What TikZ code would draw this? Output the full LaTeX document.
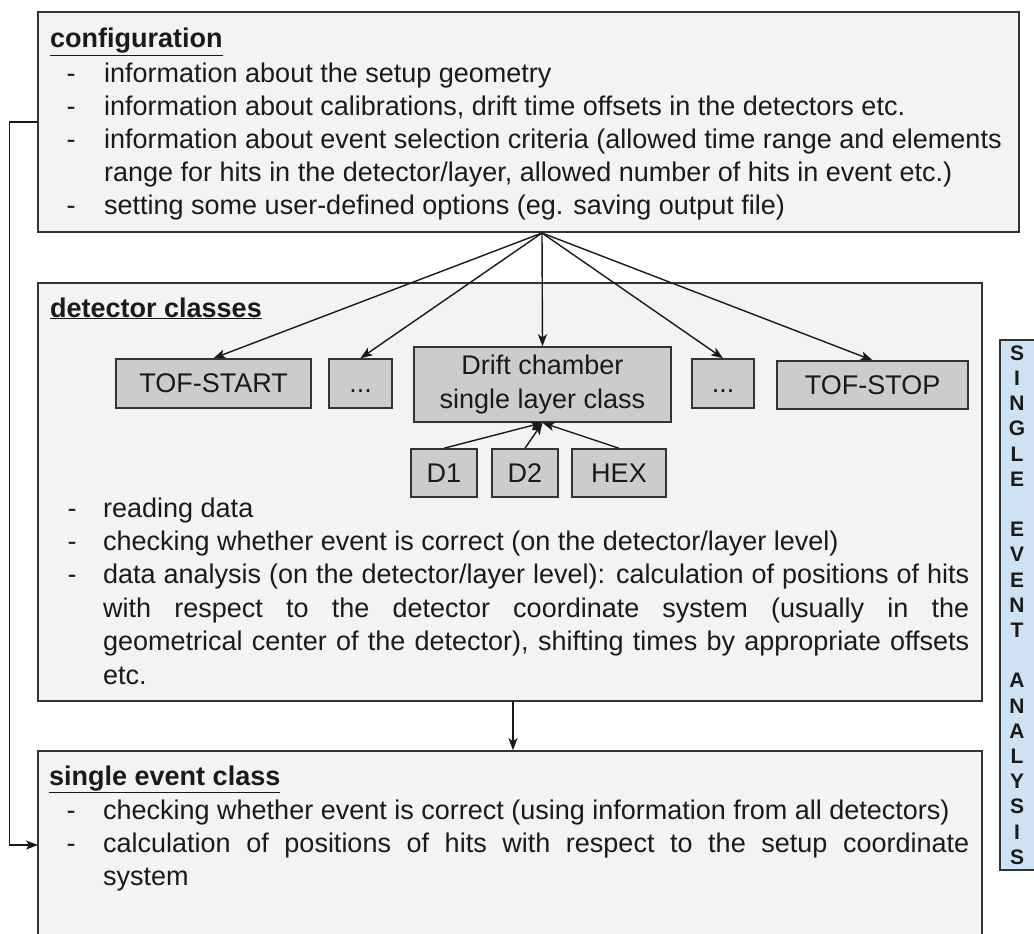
\documentclass[tikz,border=0pt]{standalone}
\usepackage{fontspec}
\setmainfont{Liberation Sans}
\usetikzlibrary{arrows.meta}
\definecolor{boxfill}{HTML}{F3F3F3}
\definecolor{smallfill}{HTML}{CCCCCC}
\definecolor{bluefill}{HTML}{CFE2F3}
\definecolor{edgecol}{HTML}{333333}
\definecolor{txtcol}{HTML}{1A1A1A}
\newcommand\myfs{\fontsize{27}{33.4}\selectfont}
\tikzset{
  bigbox/.style={draw=edgecol, fill=boxfill, line width=1.5pt, inner sep=0pt},
  smallbox/.style={draw=edgecol, fill=smallfill, line width=1.5pt, inner sep=0pt,
                   font=\myfs, text=txtcol, align=center},
  bluebox/.style={draw=edgecol, fill=bluefill, line width=1.5pt, inner sep=0pt},
  conn/.style={line width=1.4pt, draw=black!90, -{Stealth[length=12pt,width=9pt,inset=3pt]}},
  txt/.style={anchor=base west, inner sep=0pt, font=\myfs, text=txtcol},
  bulletdash/.style={anchor=base, inner sep=0pt, font=\myfs, text=txtcol},
  ttl/.style={anchor=base west, inner sep=0pt, font=\myfs\bfseries, text=txtcol},
}
\begin{document}
\begin{tikzpicture}[x=1pt,y=-1pt]
\useasboundingbox (0,0) rectangle (1034,934);

% big boxes
\node[bigbox, minimum width=981pt, minimum height=220pt] (config) at (528.5,122) {};
\node[bigbox, minimum width=944pt, minimum height=418pt] (det) at (510,492) {};
\node[bigbox, minimum width=944pt, minimum height=220pt] (single) at (510,861) {};
\node[bluebox, minimum width=42pt, minimum height=530pt] (blue) at (1021,605) {};

% configuration text
\node[ttl] (cT) at (50,48) {\underline{configuration}};
\node[bulletdash] (cd1) at (71,82) {-};
\node[txt] (c1) at (104,82) {information about the setup geometry};
\node[bulletdash] (cd2) at (71,115) {-};
\node[txt] (c2) at (104,115) {information about calibrations, drift time offsets in the detectors etc.};
\node[bulletdash] (cd3) at (71,148) {-};
\node[txt] (c3) at (104,148) {information about event selection criteria (allowed time range and elements};
\node[txt] (c4) at (104,181) {range for hits in the detector/layer, allowed number of hits in event etc.)};
\node[bulletdash] (cd5) at (71,214) {-};
\node[txt] (c5) at (104,214) {setting some user-defined options (eg. saving output file)};

% detector classes
\node[ttl] (dT) at (50,317) {\underline{detector classes}};
\node[smallbox, minimum width=195pt, minimum height=49pt] (tofstart) at (213.5,383.5) {TOF-START};
\node[smallbox, minimum width=63pt, minimum height=49pt] (dots1) at (360.5,383.5) {\vphantom{T}...};
\node[smallbox, minimum width=257pt, minimum height=75pt] (drift) at (542.5,384.5) {Drift chamber\\single layer class};
\node[smallbox, minimum width=62pt, minimum height=49pt] (dots2) at (723,383.5) {\vphantom{T}...};
\node[smallbox, minimum width=191pt, minimum height=48pt] (tofstop) at (872.5,385) {TOF-STOP};
\node[smallbox, minimum width=66pt, minimum height=48pt] (d1) at (444,473) {D1};
\node[smallbox, minimum width=66pt, minimum height=48pt] (d2) at (525,473) {D2};
\node[smallbox, minimum width=94pt, minimum height=48pt] (hex) at (619,473) {HEX};

\node[bulletdash] (dd1) at (72,517) {-};
\node[txt] (dl1) at (103,517) {reading data};
\node[bulletdash] (dd2) at (72,550.4) {-};
\node[txt] (dl2) at (103,550.4) {checking whether event is correct (on the detector/layer level)};
\node[bulletdash] (dd3) at (72,583.8) {-};
\node[txt] (dl3) at (103,583.8) {\makebox[866pt][s]{data analysis (on the detector/layer level): calculation of positions of hits}};
\node[txt] (dl4) at (103,617.2) {\makebox[866pt][s]{with respect to the detector coordinate system (usually in the}};
\node[txt] (dl5) at (103,650.6) {\makebox[866pt][s]{geometrical center of the detector), shifting times by appropriate offsets}};
\node[txt] (dl6) at (103,684) {etc.};

% single event class
\node[ttl] (sT) at (49,785) {\underline{single event class}};
\node[bulletdash] (sd1) at (71,819) {-};
\node[txt] (s1) at (103,819) {checking whether event is correct (using information from all detectors)};
\node[bulletdash] (sd2) at (71,852.4) {-};
\node[txt] (s2) at (103,852.4) {\makebox[866pt][s]{calculation of positions of hits with respect to the setup coordinate}};
\node[txt] (s3) at (103,885.8) {system};

% vertical label
\node[anchor=north, inner sep=0pt, align=center, text=txtcol,
      font=\fontsize{21}{25.2}\selectfont\bfseries] (vlabel) at (1017,345.5)
  {S\\I\\N\\G\\L\\E\\\mbox{}\\E\\V\\E\\N\\T\\\mbox{}\\A\\N\\A\\L\\Y\\S\\I\\S};

% connectors
\coordinate (fan) at (542,233);
\draw[conn] (fan) -- (tofstart.north);
\draw[conn] (fan) -- (dots1.north);
\draw[conn] (fan) -- (drift.north);
\draw[conn] (fan) -- (dots2.north);
\draw[conn] (fan) -- (tofstop.north);
\draw[conn] (d1.north) -- (drift.south);
\draw[conn] (d2.north) -- (drift.south);
\draw[conn] (hex.north) -- (drift.south);
\coordinate (xa) at (513,0);
\draw[conn] (det.south -| xa) -- (single.north -| xa);
\coordinate (sin) at (38,845);
\draw[conn] (config.west) -- ++(-28,0) |- (sin);
\end{tikzpicture}
\end{document}
